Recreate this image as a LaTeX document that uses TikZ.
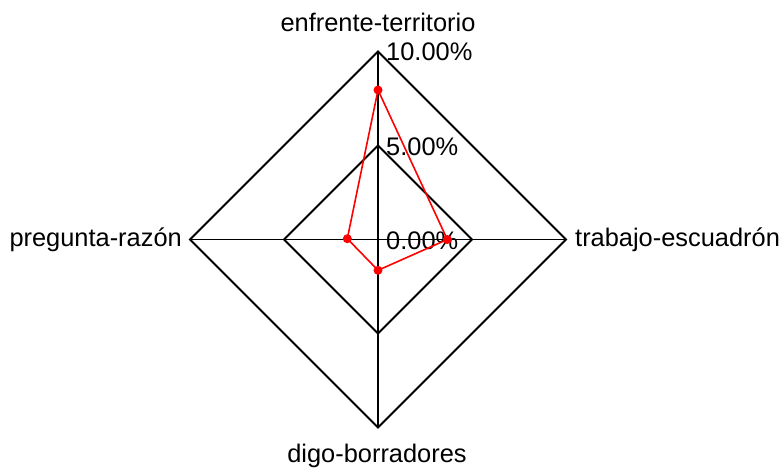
\documentclass[tikz,border=0pt]{standalone}
\usepackage{fontspec}
\setmainfont{Liberation Sans}
\begin{document}
\begin{tikzpicture}[x=1pt,y=-1pt,
  grid/.style={draw=black,line width=1.8pt},
  lbl/.style={font=\fontsize{25.4}{30}\selectfont,inner sep=0pt},
  series/.style={draw=red,line width=1.6pt},
  dot/.style={circle,fill=red,inner sep=0pt,minimum size=9pt}]
\useasboundingbox (0,0) rectangle (781,468);
% centre and axis ends
\coordinate (c) at (378,239.5);
\coordinate (t) at (378,51.5);
\coordinate (r) at (566,239.5);
\coordinate (b) at (378,427.5);
\coordinate (l) at (190,239.5);
\coordinate (t5) at (378,145.5);
\coordinate (r5) at (472,239.5);
\coordinate (b5) at (378,333.5);
\coordinate (l5) at (284,239.5);
% grid
\draw[grid] (t) -- (r) -- (b) -- (l) -- cycle;
\draw[grid] (t5) -- (r5) -- (b5) -- (l5) -- cycle;
\draw[grid] (t) -- (b);
\draw[grid] (l) -- (r);
% axis labels
\node[lbl,anchor=base] (nt) at (378,32) {enfrente-territorio};
\node[lbl,anchor=base west] (nr) at (575,246.7) {trabajo-escuadrón};
\node[lbl,anchor=base] (nb) at (377,462) {digo-borradores};
\node[lbl,anchor=base east] (nl) at (182,246.7) {pregunta-razón};
% tick labels
\node[lbl,anchor=base west] (k10) at (386,61) {10.00\%};
\node[lbl,anchor=base west] (k5) at (386,155) {5.00\%};
\node[lbl,anchor=base west] (k0) at (386,249) {0.00\%};
% data
\node[dot] (pt) at (378,90) {};
\node[dot] (pr) at (447.3,239.5) {};
\node[dot] (pb) at (378,270.3) {};
\node[dot] (pl) at (347.3,238.7) {};
\draw[series] (pt.center) -- (pr.center) -- (pb.center) -- (pl.center) -- cycle;
\end{tikzpicture}
\end{document}
